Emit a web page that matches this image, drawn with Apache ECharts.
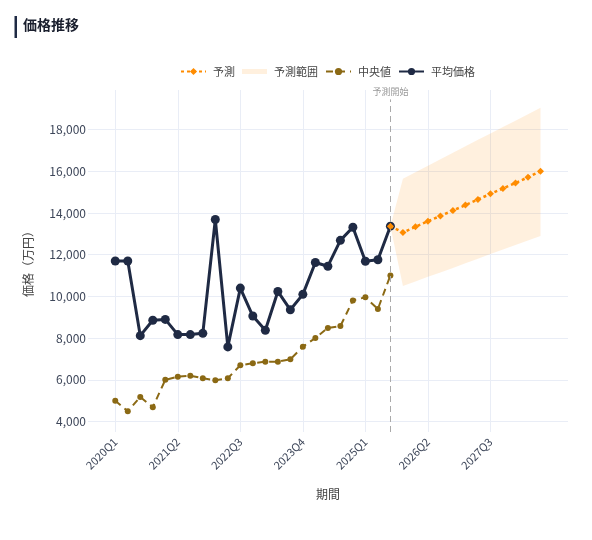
<!DOCTYPE html>
<html>
<head>
<meta charset="utf-8">
<script src="https://cdn.jsdelivr.net/npm/echarts@6/dist/echarts.min.js"></script>
<style>
html,body{margin:0;padding:0;background:#fff;}
#chart{width:592px;height:540px;}
</style>
</head>
<body>
<div id="chart"></div>
<script>
// Quarter categories (index = position on x axis)
const quarters = [
  '2020Q1','2020Q2','2020Q3','2020Q4','2021Q1','2021Q2','2021Q3','2021Q4',
  '2022Q1','2022Q2','2022Q3','2022Q4','2023Q1','2023Q2','2023Q3','2023Q4',
  '2024Q1','2024Q2','2024Q3','2024Q4','2025Q1','2025Q2','2025Q3','2025Q4',
  '2026Q1','2026Q2','2026Q3','2026Q4','2027Q1','2027Q2','2027Q3','2027Q4',
  '2028Q1','2028Q2','2028Q3'
];
const xTickIdx = [0, 5, 10, 15, 20, 25, 30];
const yTicks = [4000, 6000, 8000, 10000, 12000, 14000, 16000, 18000];

// Actual data, 2020Q1 .. 2025Q3
const avgPrice = [11700, 11700, 8120, 8860, 8900, 8170, 8170, 8230, 13690, 7580,
  10400, 9060, 8380, 10240, 9360, 10100, 11630, 11450, 12690, 13320, 11690, 11760, 13370];
const medianPrice = [5000, 4500, 5180, 4690, 6000, 6150, 6200, 6080, 5980, 6080,
  6700, 6800, 6870, 6870, 6990, 7590, 8010, 8490, 8580, 9810, 9960, 9400, 11010];

// Forecast, 2025Q3 .. 2028Q3
const forecastStart = 22;
const forecast = [13370, 13070, 13340, 13610, 13860, 14120, 14380, 14650, 14920, 15180, 15440, 15720, 16000];
const bandUpper = [13370, 15650, 15960, 16270, 16580, 16890, 17200, 17510, 17820, 18120, 18430, 18740, 19050];
const bandLower = [13370, 10500, 10720, 10940, 11150, 11370, 11590, 11810, 12030, 12250, 12470, 12680, 12900];
const forecastLabel = '予測開始';

const font = '"Noto Sans CJK JP", "Noto Sans", sans-serif';
const axisColor = '#3d4659';
const bandColor = 'rgba(255,140,0,0.13)';

const avgData = avgPrice.map((v, i) => [i, v]);
const medData = medianPrice.map((v, i) => [i, v]);
const fcData = forecast.map((v, i) => [forecastStart + i, v]);

const chart = echarts.init(document.getElementById('chart'), null, {renderer: 'canvas'});
chart.setOption({
  animation: false,
  textStyle: {fontFamily: font},
  title: {
    text: '価格推移', left: 18, top: 13,
    textStyle: {fontSize: 14, fontWeight: 'bold', color: '#1a1f2e', fontFamily: font}
  },
  graphic: [{
    type: 'rect', left: 14.5, top: 16, shape: {width: 2.5, height: 22},
    style: {fill: '#1f2a44'}
  }],
  legend: {
    left: 175, top: 61, itemWidth: 25, itemHeight: 9, itemGap: 7,
    textStyle: {fontSize: 11, color: '#444', fontFamily: font, padding: [0, 0, 0, 2]},
    data: [
      {name: '予測'},
      {name: '予測範囲', icon: 'path://M0,0L0,0M0,9L0,9M0,2H25V7H0Z', itemStyle: {color: bandColor}},
      {name: '中央値'},
      {name: '平均価格'}
    ]
  },
  grid: {left: 88, right: 24, top: 90, bottom: 108},
  xAxis: {
    type: 'value', min: -2.18, max: 36.2,
    name: '期間', nameLocation: 'middle', nameGap: 56,
    nameTextStyle: {fontSize: 12, color: '#444', fontFamily: font},
    axisLine: {show: false},
    axisTick: {show: false, customValues: xTickIdx},
    axisLabel: {
      customValues: xTickIdx, rotate: 45, fontSize: 11, color: axisColor, margin: 8,
      formatter: v => quarters[Math.round(v)] || ''
    },
    splitLine: {show: true, lineStyle: {color: '#e9edf6', width: 1}}
  },
  yAxis: {
    type: 'value', min: 3500, max: 19900,
    name: '価格（万円）', nameLocation: 'middle', nameGap: 54,
    nameTextStyle: {fontSize: 12, color: '#444', fontFamily: font},
    axisLine: {show: false},
    axisTick: {show: false, customValues: yTicks},
    axisLabel: {
      customValues: yTicks, fontSize: 12, color: axisColor, margin: 2,
      formatter: v => v.toLocaleString('en-US')
    },
    splitLine: {show: true, lineStyle: {color: '#e9edf6', width: 1}}
  },
  series: [
    {
      name: '予測範囲', type: 'custom', z: 1, silent: true,
      itemStyle: {color: bandColor},
      data: [[forecastStart, bandUpper[0]]],
      encode: {x: 0, y: 1},
      renderItem: (params, api) => {
        const pts = [];
        bandUpper.forEach((v, i) => pts.push(api.coord([forecastStart + i, v])));
        for (let i = bandLower.length - 1; i >= 0; i--) {
          pts.push(api.coord([forecastStart + i, bandLower[i]]));
        }
        return {type: 'polygon', shape: {points: pts}, style: {fill: bandColor}};
      }
    },
    {
      name: '中央値', type: 'line', data: medData,
      symbol: 'circle', symbolSize: 6,
      itemStyle: {color: '#8b6914'},
      lineStyle: {color: '#8b6914', width: 2, type: [7, 5]}, z: 3
    },
    {
      name: '平均価格', type: 'line', data: avgData,
      symbol: 'circle', symbolSize: 9,
      itemStyle: {color: '#1f2a44'},
      lineStyle: {color: '#1f2a44', width: 3}, z: 4,
      markLine: {
        silent: true, symbol: 'none',
        lineStyle: {color: '#aaaaaa', width: 1, type: [6, 4]},
        label: {show: true, position: 'end', formatter: forecastLabel, fontSize: 9, color: '#999', distance: 3, fontFamily: font},
        data: [[{xAxis: forecastStart, yAxis: 3500}, {xAxis: forecastStart, yAxis: 19450}]]
      }
    },
    {
      name: '予測', type: 'line', data: fcData,
      symbol: 'diamond', symbolSize: 7,
      itemStyle: {color: '#ff8c00'},
      lineStyle: {color: '#ff8c00', width: 2.5, type: [3, 3]}, z: 5
    }
  ]
});
</script>
</body>
</html>
